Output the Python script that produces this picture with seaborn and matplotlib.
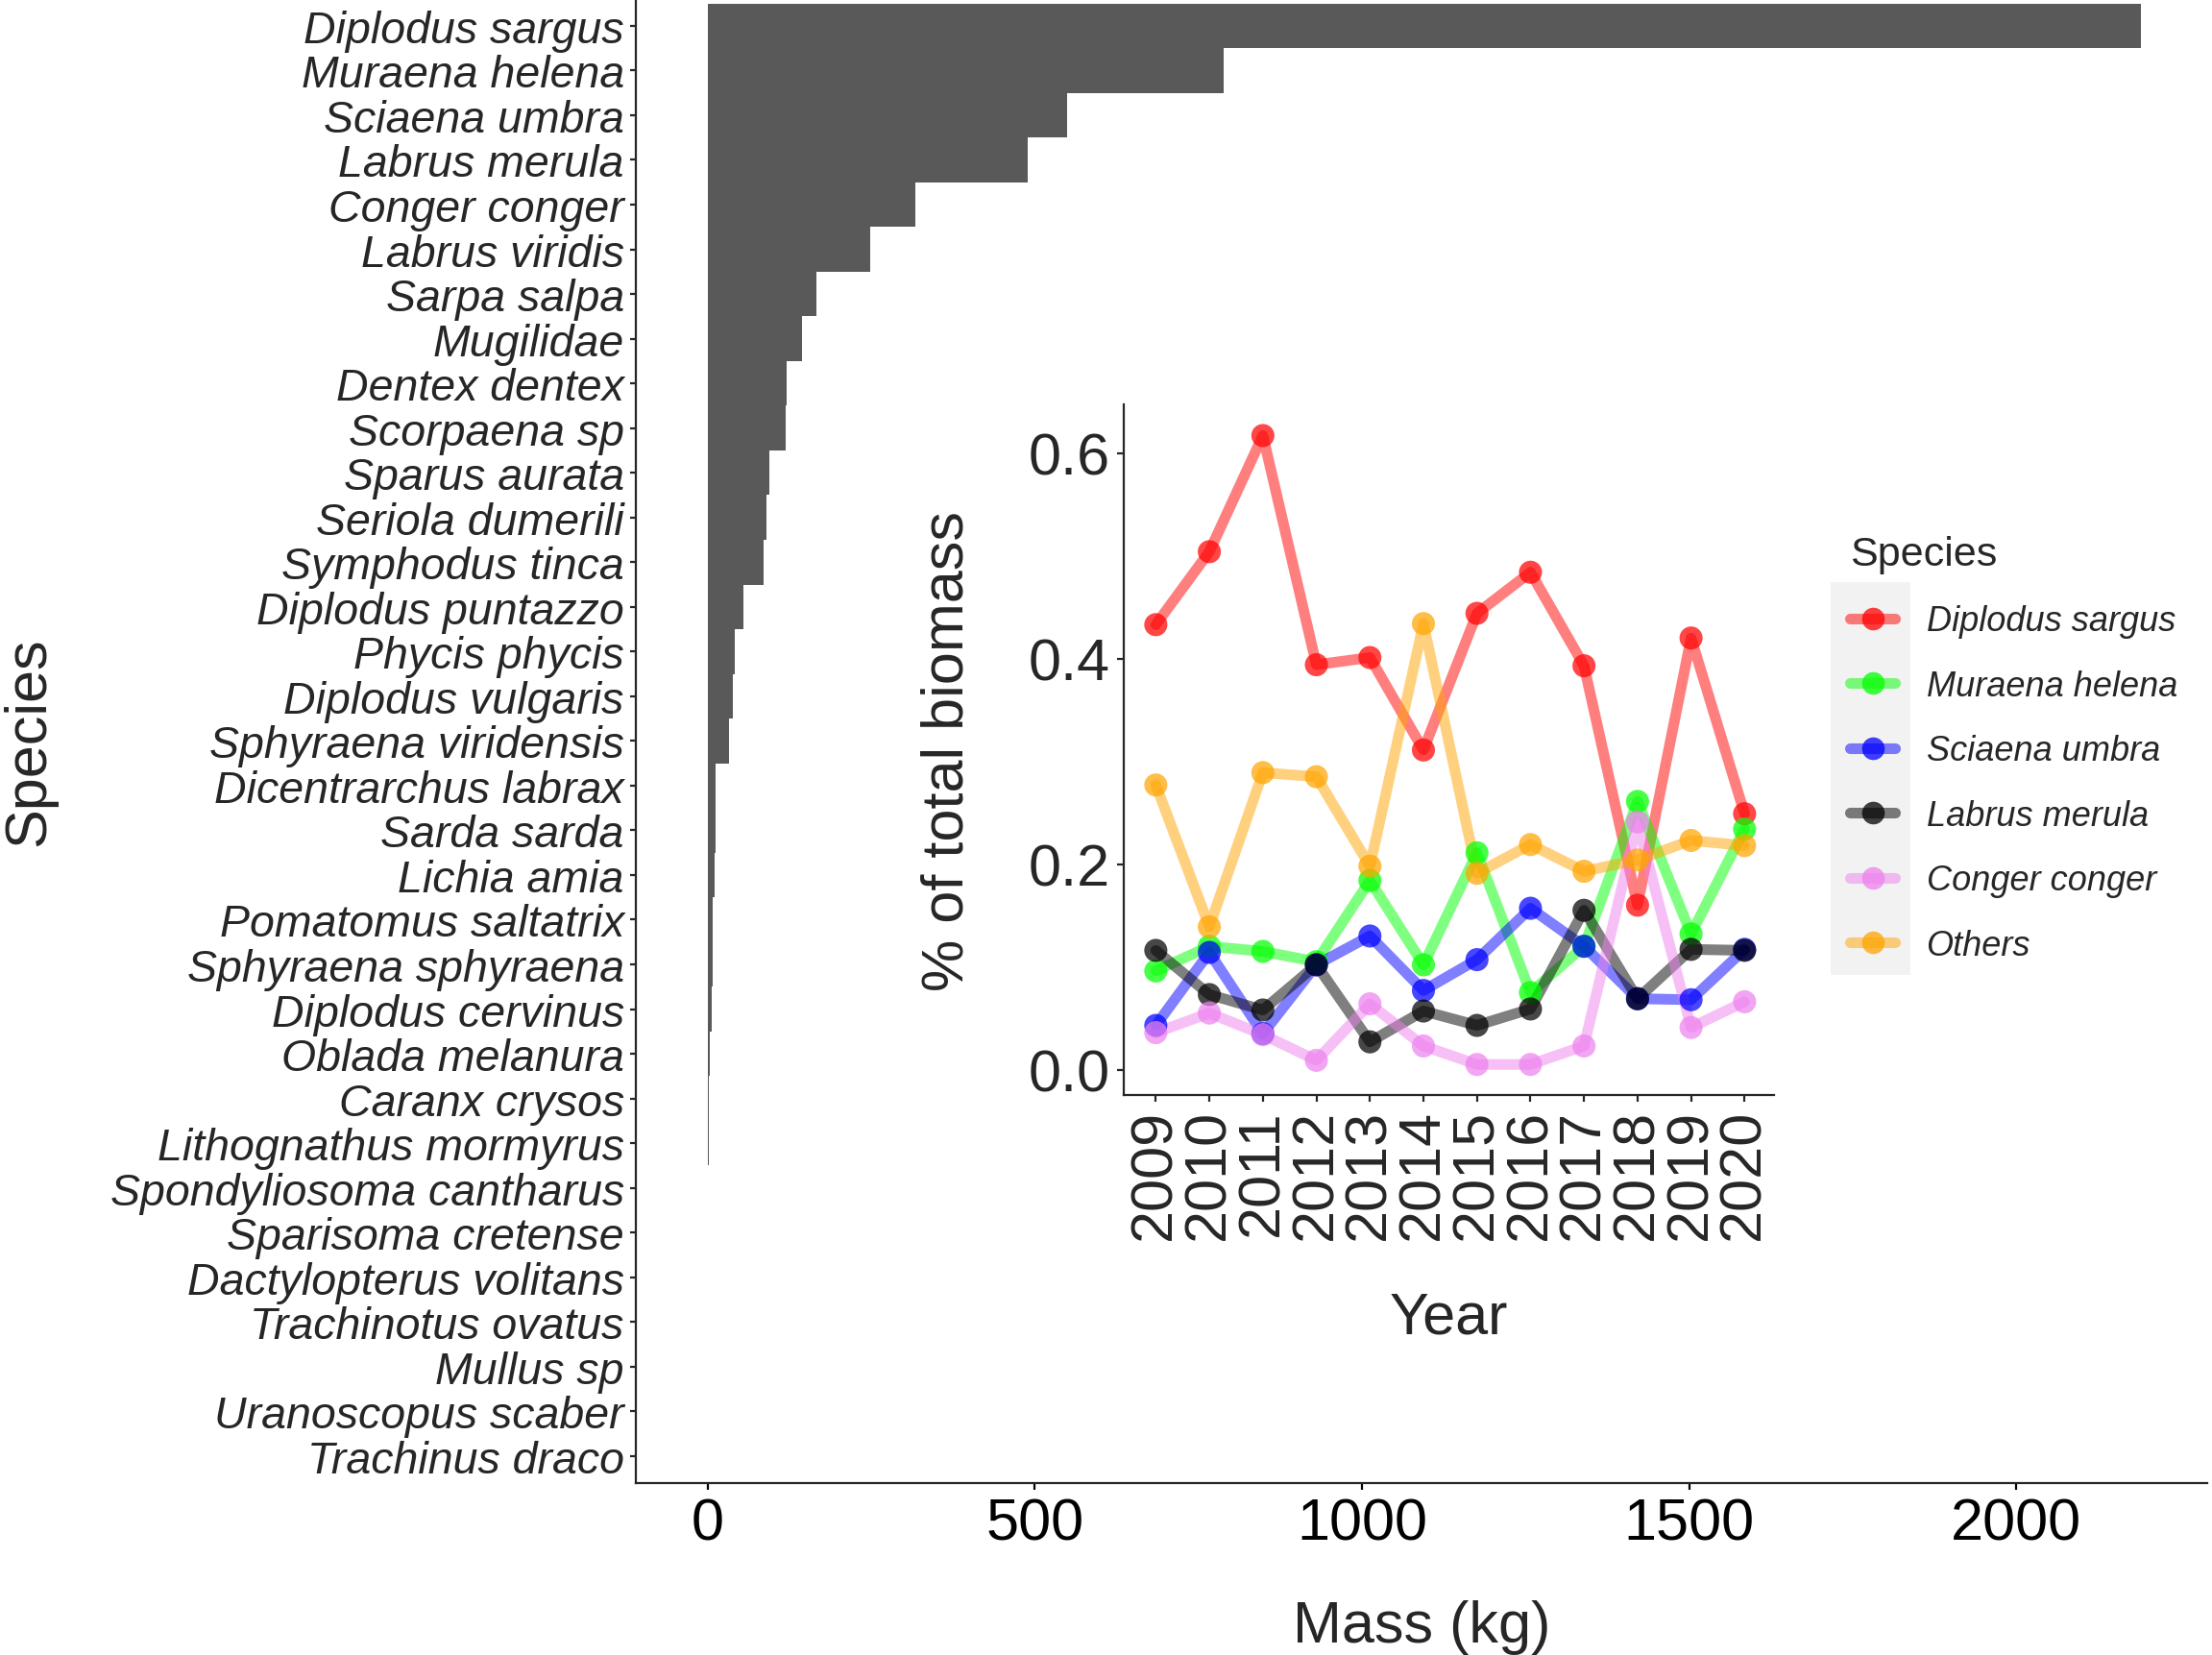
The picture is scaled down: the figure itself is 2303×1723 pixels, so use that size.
import pandas as pd
import matplotlib.pyplot as plt
import seaborn as sns
from matplotlib.lines import Line2D
from matplotlib.patches import Rectangle

# ---------------------------------------------------------------- DATOS
especies = ['Diplodus sargus', 'Muraena helena', 'Sciaena umbra', 'Labrus merula',
            'Conger conger', 'Labrus viridis', 'Sarpa salpa', 'Mugilidae',
            'Dentex dentex', 'Scorpaena sp', 'Sparus aurata', 'Seriola dumerili',
            'Symphodus tinca', 'Diplodus puntazzo', 'Phycis phycis', 'Diplodus vulgaris',
            'Sphyraena viridensis', 'Dicentrarchus labrax', 'Sarda sarda', 'Lichia amia',
            'Pomatomus saltatrix', 'Sphyraena sphyraena', 'Diplodus cervinus',
            'Oblada melanura', 'Caranx crysos', 'Lithognathus mormyrus',
            'Spondyliosoma cantharus', 'Sparisoma cretense', 'Dactylopterus volitans',
            'Trachinotus ovatus', 'Mullus sp', 'Uranoscopus scaber', 'Trachinus draco']
masa_kg = [2190, 789, 549, 489, 318, 249, 167, 145, 121, 119, 94, 90, 85, 55, 42, 38,
           33, 13, 12, 11, 8, 7.5, 7, 4, 2.2, 2.0, 0.4, 0.3, 0.25, 0.2, 0.15, 0.1, 0.05]

anios = [2009, 2010, 2011, 2012, 2013, 2014, 2015, 2016, 2017, 2018, 2019, 2020]
diplodus_sargus = [0.433, 0.504, 0.617, 0.394, 0.401, 0.311, 0.444, 0.484, 0.393, 0.160, 0.420, 0.249]
muraena_helena = [0.096, 0.120, 0.115, 0.105, 0.184, 0.102, 0.211, 0.075, 0.120, 0.261, 0.132, 0.234]
sciaena_umbra = [0.043, 0.114, 0.035, 0.102, 0.130, 0.077, 0.107, 0.157, 0.120, 0.069, 0.068, 0.117]
labrus_merula = [0.116, 0.073, 0.058, 0.102, 0.027, 0.057, 0.043, 0.059, 0.155, 0.069, 0.117, 0.116]
conger_conger = [0.036, 0.055, 0.034, 0.009, 0.064, 0.023, 0.005, 0.005, 0.023, 0.241, 0.041, 0.066]
otros = [0.277, 0.139, 0.289, 0.285, 0.198, 0.434, 0.191, 0.219, 0.193, 0.204, 0.223, 0.218]

grupos = ['Diplodus sargus', 'Muraena helena', 'Sciaena umbra', 'Labrus merula',
          'Conger conger', 'Others']
colores = ['#FF0000', '#00FF00', '#0000FF', '#000000', '#EE82EE', '#FFA500']
series = [diplodus_sargus, muraena_helena, sciaena_umbra, labrus_merula, conger_conger, otros]

# tabla larga para seaborn
df = pd.DataFrame({
    'Year': anios * len(grupos),
    'Biomass': sum(series, []),
    'Species': [g for g in grupos for _ in anios],
})
paleta = dict(zip(grupos, colores))

# ---------------------------------------------------------------- ESTILO
sns.set_style('ticks')
plt.rcParams['font.family'] = ['Liberation Sans', 'DejaVu Sans']
plt.rcParams['axes.linewidth'] = 1.6
plt.rcParams['xtick.major.width'] = 1.6
plt.rcParams['ytick.major.width'] = 1.6

fig = plt.figure(figsize=(23.03, 17.24), dpi=100)

# ---------------------------------------------------------------- BARRAS
ax = fig.add_axes([0.2876, 0.104, 0.7104, 0.896])
sns.barplot(x=masa_kg, y=especies, orient='h', color='#595959', saturation=1,
            width=1, linewidth=0, ax=ax)
ax.set_xlim(-109, 2292)
ax.set_ylim(len(especies) - 0.4, -0.6)
ax.set_xticks([0, 500, 1000, 1500, 2000])
ax.tick_params(axis='x', labelsize=44, length=5, pad=6, colors='black')
ax.tick_params(axis='y', labelsize=33.5, length=4, pad=5)
for t in ax.get_yticklabels():
    t.set_fontstyle('italic')
ax.set_xlabel('Mass (kg)', fontsize=44, labelpad=35)
ax.set_ylabel('Species', fontsize=44, labelpad=40)
sns.despine(ax=ax)

# ---------------------------------------------------------------- INSET LINEAS
ax2 = fig.add_axes([0.508, 0.338, 0.294, 0.417])
ax2.set_facecolor('none')
sns.lineplot(data=df, x='Year', y='Biomass', hue='Species', hue_order=grupos,
             palette=paleta, linewidth=8, alpha=0.5, legend=False, ax=ax2)
sns.scatterplot(data=df, x='Year', y='Biomass', hue='Species', hue_order=grupos,
                palette=paleta, s=300, alpha=0.72, linewidth=0, legend=False,
                ax=ax2, zorder=3)
ax2.set_xlim(2008.4, 2020.55)
ax2.set_ylim(-0.025, 0.647)
ax2.set_xticks(anios)
ax2.set_xticklabels([str(a) for a in anios], rotation=90)
ax2.set_yticks([0.0, 0.2, 0.4, 0.6])
ax2.set_yticklabels(['0.0', '0.2', '0.4', '0.6'])
ax2.tick_params(labelsize=44, length=5, pad=5)
ax2.set_xlabel('Year', fontsize=44, labelpad=38)
ax2.set_ylabel('% of total biomass', fontsize=44, labelpad=40)
sns.despine(ax=ax2)

# ---------------------------------------------------------------- LEYENDA
handles = []
for c in colores:
    rgb = plt.matplotlib.colors.to_rgb(c)
    handles.append(Line2D([], [], color=rgb + (0.5,), linewidth=8, marker='o',
                          markersize=17, markerfacecolor=rgb + (0.75,),
                          markeredgewidth=0))
leg = fig.legend(handles, grupos, loc='upper left', bbox_to_anchor=(0.8285, 0.687),
                 frameon=False, title='Species', title_fontsize=31,
                 prop={'size': 26, 'style': 'italic'}, handlelength=1.3,
                 handletextpad=0.9, labelspacing=0.9, borderpad=0,
                 alignment='left')

# recuadro gris detras de las claves (como ggplot)
fig.canvas.draw()
cajas = [h.get_window_extent() for h in leg.legend_handles]
x0 = min(b.x0 for b in cajas)
x1 = max(b.x1 for b in cajas)
y0 = min(b.y0 for b in cajas)
y1 = max(b.y1 for b in cajas)
paso = (y1 - y0) / (len(cajas) - 1) if len(cajas) > 1 else 60
W, H = fig.bbox.width, fig.bbox.height
fig.patches.append(Rectangle(((x0 - 8) / W, (y0 - paso * 0.3) / H),
                             (x1 - x0 + 12) / W, (y1 - y0 + paso * 0.65) / H,
                             transform=fig.transFigure, facecolor='#F2F2F2',
                             edgecolor='none', zorder=4))

fig.savefig('out.png', dpi=100)
